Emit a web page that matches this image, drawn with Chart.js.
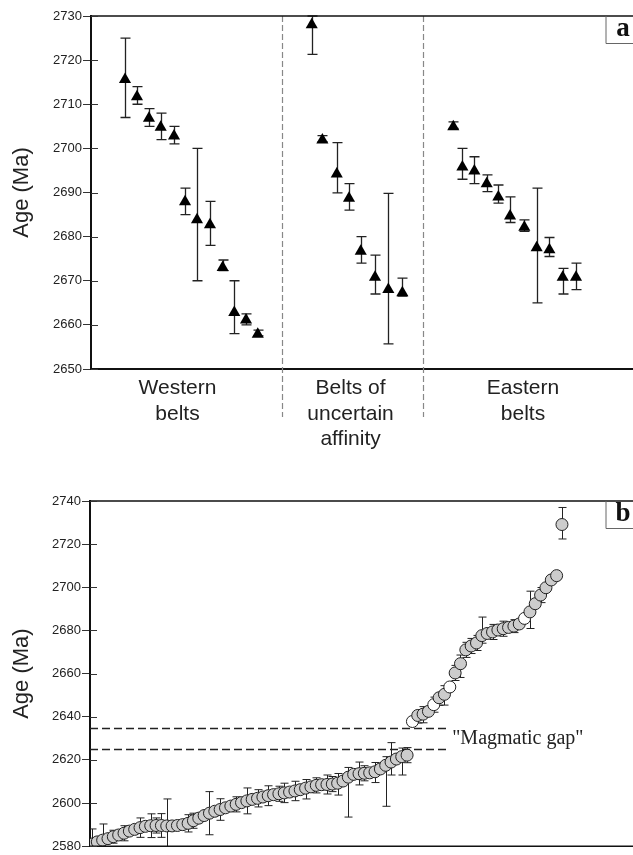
<!DOCTYPE html>
<html>
<head>
<meta charset="utf-8">
<script src="https://cdn.jsdelivr.net/npm/chart.js@4.4.0/dist/chart.umd.min.js"></script>
<style>
  html, body { margin: 0; padding: 0; background: #fff; }
  #wrap { position: relative; width: 633px; height: 855px; overflow: hidden; }
  #chartA { position: absolute; left: 0; top: 0; }
  #chartB { position: absolute; left: 0; top: 460px; }
</style>
</head>
<body>
<div id="wrap">
  <canvas id="chartA" width="633" height="450"></canvas>
  <canvas id="chartB" width="633" height="395"></canvas>
</div>
<script>
// panel a - ages by belt (sample slot along x, age in Ma)
var beltNames = [['Western', 'belts'], ['Belts of', 'uncertain', 'affinity'], ['Eastern', 'belts']];
var beltLabelSlot = [7.15, 21.45, 35.7];
var beltDividerSlot = [15.79, 27.46];
var aSlot = [2.81, 3.80, 4.79, 5.76, 6.86, 7.77, 8.76, 9.83, 10.88, 11.84, 12.81, 13.78,
  18.24, 19.12, 20.31, 21.32, 22.29, 23.47, 24.57, 25.73,
  29.94, 30.69, 31.68, 32.70, 33.66, 34.63, 35.81, 36.83, 37.88, 38.98, 40.08];
var aAge = [2715.6, 2711.7, 2706.8, 2704.8, 2702.8, 2687.9, 2683.8, 2682.7, 2673.0, 2662.8, 2661.1, 2657.9,
  2728.0, 2701.9, 2694.2, 2688.7, 2676.7, 2670.8, 2668.0, 2667.3,
  2704.9, 2695.8, 2694.9, 2692.0, 2689.0, 2684.7, 2682.1, 2677.5, 2677.0, 2670.8, 2670.8];
var aLow = [2707, 2710, 2705, 2702, 2701, 2685, 2670, 2678, 2672.3, 2658, 2660, 2657.5,
  2721.3, 2701.5, 2689.9, 2686, 2674, 2667, 2655.7, 2666.5,
  2704.5, 2693, 2692, 2690.2, 2687.6, 2683.2, 2681.2, 2665, 2675.5, 2667, 2668];
var aHigh = [2725, 2714, 2709, 2708, 2705, 2691, 2700, 2688, 2674.7, 2670, 2662.5, 2658.8,
  2730, 2702.9, 2701.3, 2692, 2680, 2675.8, 2689.8, 2670.6,
  2706, 2700, 2698.1, 2694, 2691.7, 2689, 2683.8, 2691, 2679.8, 2672.8, 2674];
var aSlotMax = 44.79;
var aYMin = 2650, aYMax = 2730, aYStep = 10;

// panel b - all ages sorted, sample number along x
var bAge = [
  2581.0, 2582.0, 2582.8, 2583.5, 2584.4, 2585.2, 2586.0, 2587.0, 2587.8, 2588.6,
  2589.2, 2589.5, 2589.6, 2589.6, 2589.4, 2589.4, 2589.6, 2590.0, 2590.6, 2591.8,
  2593.0, 2594.2, 2595.3, 2596.2, 2597.0, 2597.8, 2598.6, 2599.4, 2600.2, 2601.0,
  2601.7, 2602.2, 2602.8, 2603.4, 2603.9, 2604.3, 2604.7, 2605.1, 2605.6, 2606.2,
  2606.9, 2607.5, 2608.2, 2608.5, 2608.6, 2608.8, 2609.2, 2610.2, 2612.0, 2613.3,
  2613.6, 2613.8, 2614.0, 2614.5, 2615.8, 2617.5, 2619.0, 2620.4, 2621.5, 2622.2,
  2637.8, 2640.6, 2641.2, 2642.5, 2645.6, 2648.8, 2650.4, 2653.8, 2660.3, 2664.6,
  2671.0, 2672.8, 2674.2, 2677.6, 2678.6, 2679.3, 2680.2, 2680.8, 2681.4, 2682.0,
  2683.0, 2685.6, 2688.6, 2692.4, 2696.4, 2699.8, 2703.4, 2705.4, 2729.1];
var bErrLo = [
  7, 0, 7.5, 0, 3, 0, 3.5, 0, 0, 4.5,
  0, 5.5, 3.5, 5.5, 12.5, 0, 0, 0, 4, 3.5,
  0, 0, 10, 0, 5, 0, 0, 3.5, 0, 6,
  0, 4, 0, 4.6, 0, 3.5, 4.5, 0, 4.5, 0,
  5, 0, 3.5, 0, 4.4, 3.5, 5.5, 0, 18.5, 0,
  5.2, 3.5, 0, 5, 0, 19, 6, 0, 8.5, 3.5,
  0, 3.5, 4, 0, 3.5, 3.5, 5, 0, 3.5, 6.4,
  3.5, 3.5, 3.5, 3.5, 0, 3.5, 0, 3.5, 0, 3,
  0, 0, 7.7, 0, 3.5, 0, 0, 0, 6.7];
var bErrHi = [
  7, 0, 7.5, 0, 3, 0, 3.5, 0, 0, 4.5,
  0, 5.5, 3.5, 5.5, 12.5, 0, 0, 0, 4, 3.5,
  0, 0, 10, 0, 5, 0, 0, 3.5, 0, 6,
  0, 4, 0, 4.6, 0, 3.5, 4.5, 0, 4.5, 0,
  4, 0, 3.5, 0, 4.4, 3.5, 4.5, 0, 4.5, 0,
  5.4, 3.5, 0, 4.3, 0, 4, 9, 0, 4, 3.5,
  0, 0, 3.5, 0, 3.5, 0, 4, 0, 3.5, 4,
  3.5, 3.5, 3.5, 8.6, 0, 3.5, 0, 3.5, 0, 3,
  0, 0, 9.6, 0, 3.5, 0, 0, 0, 7.9];
var bOpen = [61, 65, 68, 82];
var gapLimits = [2625, 2635];
var gapEndSample = 67.7;
var gapText = '"Magmatic gap"';
var bXMin = 0.63, bXMax = 102.3;
var bYMin = 2580, bYMax = 2740, bYStep = 20;

Chart.defaults.font.family = '"Liberation Sans", Arial, sans-serif';
Chart.defaults.color = '#222';

// error bars behind the markers
var errorBars = {
  id: 'errorBars',
  beforeDatasetsDraw: function(chart, args, opts) {
    var ctx = chart.ctx, xs = chart.scales.x, ys = chart.scales.y, area = chart.chartArea;
    ctx.save();
    ctx.beginPath();
    ctx.rect(area.left, area.top - 1, area.right - area.left, area.bottom - area.top + 1);
    ctx.clip();
    ctx.strokeStyle = opts.color;
    ctx.lineWidth = opts.width;
    chart.data.datasets[0].data.forEach(function(p) {
      if (p.lo === p.hi) return;
      var x = Math.round(xs.getPixelForValue(p.x)) + 0.5;
      var y1 = ys.getPixelForValue(p.lo), y2 = ys.getPixelForValue(p.hi);
      ctx.beginPath();
      ctx.moveTo(x, y1); ctx.lineTo(x, y2);
      ctx.moveTo(x - opts.cap, y1); ctx.lineTo(x + opts.cap, y1);
      ctx.moveTo(x - opts.cap, y2); ctx.lineTo(x + opts.cap, y2);
      ctx.stroke();
    });
    ctx.restore();
  }
};

// top line, inner tick marks and the panel letter box
var frame = {
  id: 'frame',
  afterDraw: function(chart, args, opts) {
    var ctx = chart.ctx, a = chart.chartArea, ys = chart.scales.y;
    ctx.save();
    ctx.strokeStyle = '#111';
    ctx.lineWidth = 1.5;
    ctx.beginPath();
    ctx.moveTo(a.left, a.top); ctx.lineTo(a.right, a.top);
    if (opts.bottom) { ctx.moveTo(a.left, a.bottom); ctx.lineTo(a.right, a.bottom); }
    ctx.stroke();
    ctx.lineWidth = 1;
    ctx.strokeStyle = '#333';
    ys.ticks.forEach(function(t) {
      var y = Math.round(ys.getPixelForValue(t.value)) + 0.5;
      ctx.beginPath(); ctx.moveTo(a.left, y); ctx.lineTo(a.left + 7, y); ctx.stroke();
    });
    ctx.strokeStyle = '#666';
    ctx.beginPath();
    ctx.moveTo(a.right - 27, a.top); ctx.lineTo(a.right - 27, a.top + 27.5); ctx.lineTo(a.right, a.top + 27.5);
    ctx.stroke();
    ctx.fillStyle = '#111';
    ctx.font = 'bold 27px "Liberation Serif", serif';
    ctx.textAlign = 'center';
    ctx.textBaseline = 'middle';
    ctx.fillText(opts.letter, a.right - 10, a.top + 13);
    ctx.restore();
  }
};

// dashed belt dividers (panel a)
var dividers = {
  id: 'dividers',
  beforeDatasetsDraw: function(chart) {
    var ctx = chart.ctx, a = chart.chartArea, xs = chart.scales.x;
    ctx.save();
    ctx.strokeStyle = '#888';
    ctx.lineWidth = 1.2;
    ctx.setLineDash([6, 3]);
    beltDividerSlot.forEach(function(v) {
      var x = Math.round(xs.getPixelForValue(v)) + 0.5;
      ctx.beginPath(); ctx.moveTo(x, a.top); ctx.lineTo(x, a.bottom + 48); ctx.stroke();
    });
    ctx.restore();
  }
};

// magmatic gap lines and note (panel b)
var gapNote = {
  id: 'gapNote',
  beforeDatasetsDraw: function(chart) {
    var ctx = chart.ctx, a = chart.chartArea, xs = chart.scales.x, ys = chart.scales.y;
    var xEnd = xs.getPixelForValue(gapEndSample);
    ctx.save();
    ctx.strokeStyle = '#222';
    ctx.lineWidth = 1.3;
    ctx.setLineDash([8, 4]);
    gapLimits.forEach(function(v) {
      var y = Math.round(ys.getPixelForValue(v)) + 0.5;
      ctx.beginPath(); ctx.moveTo(a.left, y); ctx.lineTo(xEnd, y); ctx.stroke();
    });
    ctx.fillStyle = '#222';
    ctx.font = '20px "Liberation Serif", serif';
    ctx.textBaseline = 'middle';
    ctx.fillText(gapText, xEnd + 4, ys.getPixelForValue((gapLimits[0] + gapLimits[1]) / 2));
    ctx.restore();
  }
};

function yAxis(min, max, step, width) {
  return {
    min: min, max: max,
    ticks: {
      stepSize: step, font: { size: 13 }, color: '#222', padding: 1,
      callback: function(v) { return String(v); }
    },
    grid: { drawOnChartArea: false, tickLength: 8, tickColor: '#333', tickWidth: 1 },
    border: { color: '#111', width: 2 },
    title: { display: true, text: 'Age (Ma)', font: { size: 22 }, color: '#222', padding: { top: 9 } },
    afterFit: function(s) { s.width = width; }
  };
}

var aPoints = aSlot.map(function(s, i) {
  return { x: s, y: aAge[i], lo: aLow[i], hi: aHigh[i] };
});

var chartA = new Chart(document.getElementById('chartA'), {
  type: 'scatter',
  data: { datasets: [{
    data: aPoints,
    pointStyle: 'triangle',
    pointRadius: 7,
    backgroundColor: '#000',
    borderColor: '#000',
    borderWidth: 0
  }] },
  options: {
    responsive: false,
    animation: false,
    events: [],
    layout: { autoPadding: false, padding: { top: 16, left: 0, right: 0, bottom: 0 } },
    scales: {
      x: {
        type: 'linear', min: 0, max: aSlotMax,
        afterBuildTicks: function(s) {
          s.ticks = beltLabelSlot.map(function(v) { return { value: v }; });
        },
        ticks: {
          autoSkip: false, maxRotation: 0, padding: 7,
          font: { size: 21 }, color: '#222',
          callback: function(v, i) { return beltNames[i]; }
        },
        grid: { display: false, drawTicks: false },
        border: { color: '#111', width: 2 },
        afterFit: function(s) { s.height = 81; }
      },
      y: yAxis(aYMin, aYMax, aYStep, 91)
    },
    plugins: {
      legend: { display: false },
      tooltip: { enabled: false },
      errorBars: { color: '#222', width: 1.3, cap: 5 },
      frame: { letter: 'a', bottom: false }
    }
  },
  plugins: [errorBars, frame, dividers]
});

var bPoints = bAge.map(function(v, i) {
  return { x: i + 1, y: v, lo: v - bErrLo[i], hi: v + bErrHi[i] };
});
var bFill = bAge.map(function(v, i) {
  return bOpen.indexOf(i + 1) >= 0 ? '#ffffff' : '#cccccc';
});

var chartB = new Chart(document.getElementById('chartB'), {
  type: 'scatter',
  data: { datasets: [{
    data: bPoints,
    pointStyle: 'circle',
    pointRadius: 6,
    backgroundColor: bFill,
    borderColor: '#222',
    borderWidth: 1
  }] },
  options: {
    responsive: false,
    animation: false,
    events: [],
    layout: { autoPadding: false, padding: { top: 41, left: 0, right: 0, bottom: 1.5 } },
    scales: {
      x: { type: 'linear', min: bXMin, max: bXMax, display: false },
      y: yAxis(bYMin, bYMax, bYStep, 90)
    },
    plugins: {
      legend: { display: false },
      tooltip: { enabled: false },
      errorBars: { color: '#222', width: 1, cap: 4 },
      frame: { letter: 'b', bottom: true }
    }
  },
  plugins: [errorBars, frame, gapNote]
});
</script>
</body>
</html>
